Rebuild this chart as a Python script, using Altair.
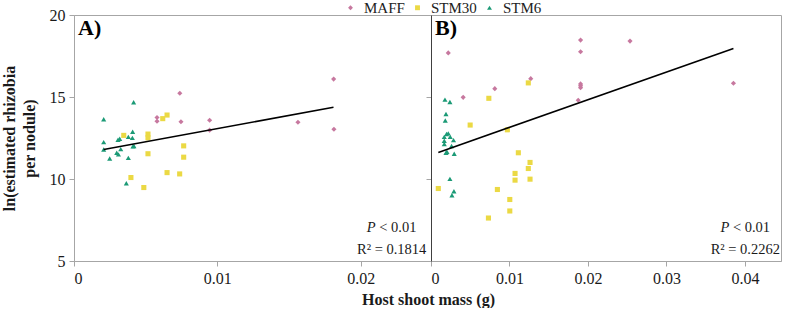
import altair as alt
import pandas as pd

FONT = "Liberation Serif"

strains = ["MAFF", "STM30", "STM6"]
strain_colors = ["#c7789f", "#ebd944", "#1b9a76"]
strain_shapes = ["diamond", "square", "triangle-up"]

# Panel A
a_maff_x = [0.00738, 0.00579, 0.00579, 0.00746, 0.00946, 0.00946, 0.01562, 0.01811, 0.01813]
a_maff_y = [15.23, 13.75, 13.52, 13.49, 13.58, 12.98, 13.46, 16.09, 13.03]
a_stm30_x = [0.00347, 0.00516, 0.00516, 0.00619, 0.00649, 0.00765, 0.00765, 0.00516, 0.00649, 0.00737, 0.00397, 0.00487]
a_stm30_y = [12.66, 12.74, 12.51, 13.68, 13.90, 12.02, 11.33, 11.54, 10.39, 10.31, 10.09, 9.48]
a_stm6_x = [0.00416, 0.00207, 0.00409, 0.00207, 0.00319, 0.00307, 0.00379, 0.00407, 0.00207,
            0.00326, 0.00411, 0.00418, 0.00298, 0.00310, 0.00249, 0.00379, 0.00365]
a_stm6_y = [14.68, 13.64, 12.88, 12.25, 12.45, 12.39, 12.57, 12.51, 11.80,
            11.82, 11.99, 12.01, 11.60, 11.50, 11.25, 11.29, 9.74]
a_fit_x = [0.00207, 0.0181]
a_fit_y = [11.80, 14.37]

# Panel B
b_maff_x = [0.00220, 0.00410, 0.00813, 0.01271, 0.01906, 0.01906, 0.01906, 0.01906, 0.01906, 0.01876, 0.02536, 0.03854]
b_maff_y = [17.69, 14.98, 15.51, 16.12, 18.47, 17.76, 15.80, 15.68, 15.57, 14.80, 18.41, 15.84]
b_stm30_x = [0.01240, 0.00737, 0.00499, 0.00973, 0.01113, 0.01262, 0.01240, 0.01071, 0.01071, 0.01262,
             0.00093, 0.00846, 0.01004, 0.01004, 0.00732]
b_stm30_y = [15.86, 14.92, 13.29, 13.00, 11.60, 11.01, 10.64, 10.34, 9.93, 9.99,
             9.42, 9.36, 8.75, 8.05, 7.62]
b_stm6_x = [0.00178, 0.00241, 0.00191, 0.00182, 0.00198, 0.00220, 0.00169, 0.00245, 0.00287,
            0.00169, 0.00169, 0.00262, 0.00203, 0.00191, 0.00296, 0.00241, 0.00292, 0.00267]
b_stm6_y = [14.84, 14.70, 13.96, 13.57, 12.74, 12.78, 12.57, 12.57, 12.37,
            12.33, 12.13, 12.01, 11.66, 11.60, 11.54, 10.01, 9.25, 9.01]
b_fit_x = [0.00093, 0.03854]
b_fit_y = [11.62, 17.96]

y_ticks = [5, 10, 15, 20]
a_x_ticks = [0, 0.01, 0.02]
b_x_ticks = [0, 0.01, 0.02, 0.03, 0.04]


def points_frame(groups):
    rows = []
    for name, xs, ys in groups:
        for xv, yv in zip(xs, ys):
            rows.append({"x": xv, "y": yv, "strain": name})
    return pd.DataFrame(rows)


a_df = points_frame([("MAFF", a_maff_x, a_maff_y), ("STM30", a_stm30_x, a_stm30_y), ("STM6", a_stm6_x, a_stm6_y)])
b_df = points_frame([("MAFF", b_maff_x, b_maff_y), ("STM30", b_stm30_x, b_stm30_y), ("STM6", b_stm6_x, b_stm6_y)])

legend = alt.Legend(
    title=None, orient="none", legendX=269, legendY=-15, direction="horizontal",
    labelFont=FONT, labelFontSize=15, labelColor="#222222", symbolSize=24,
    labelOffset=6, columnPadding=5, symbolStrokeWidth=0,
)

LABEL_EXPR = "datum.value == 0 ? '0' : format(datum.value, '.2f')"


def panel(df, fit_x, fit_y, xmax, xticks, letter, r2, width, center, first):
    xscale = alt.Scale(domain=[0, xmax], nice=False, zero=True)
    yscale = alt.Scale(domain=[5, 20], nice=False, zero=False)
    if first:
        xaxis = alt.Axis(values=xticks, labelExpr=LABEL_EXPR, title="Host shoot mass (g)",
                         titleX=354, titleY=38, titleBaseline="middle", titleAlign="center",
                         titleFont=FONT, titleFontSize=16, titleFontWeight="bold", titleColor="#1a1a1a")
        yaxis = alt.Axis(values=y_ticks, title=["ln(estimated rhizobia", "per nodule)"],
                         titleX=-65, titleY=123, titleAngle=270, titleAlign="center",
                         titleBaseline="middle", titleLineHeight=20,
                         titleFont=FONT, titleFontSize=16, titleFontWeight="bold", titleColor="#1a1a1a")
    else:
        xaxis = alt.Axis(values=xticks, labelExpr=LABEL_EXPR, title=None)
        yaxis = alt.Axis(values=y_ticks, labels=False, title=None, domainColor="#404040")

    pts = alt.Chart(df).mark_point(filled=True, opacity=1, size=26).encode(
        x=alt.X("x:Q", scale=xscale, axis=xaxis),
        y=alt.Y("y:Q", scale=yscale, axis=yaxis),
        color=alt.Color("strain:N", scale=alt.Scale(domain=strains, range=strain_colors), legend=legend),
        shape=alt.Shape("strain:N", scale=alt.Scale(domain=strains, range=strain_shapes), legend=legend),
    )
    fit = alt.Chart(pd.DataFrame({"x": fit_x, "y": fit_y})).mark_line(
        color="#000000", strokeWidth=1.6
    ).encode(x=alt.X("x:Q", scale=xscale), y=alt.Y("y:Q", scale=yscale))

    letter_txt = alt.Chart(pd.DataFrame({"t": [letter]})).mark_text(
        font=FONT, fontSize=22, fontWeight="bold", align="left", baseline="alphabetic", color="#000000"
    ).encode(x=alt.value(4), y=alt.value(19.5), text="t:N")

    split = center - 16
    p_txt = alt.Chart(pd.DataFrame({"t": ["P"]})).mark_text(
        font=FONT, fontSize=14.5, fontStyle="italic", align="right", baseline="middle", color="#1a1a1a"
    ).encode(x=alt.value(split), y=alt.value(213), text="t:N")
    lt_txt = alt.Chart(pd.DataFrame({"t": ["< 0.01"]})).mark_text(
        font=FONT, fontSize=14.5, align="left", baseline="middle", color="#1a1a1a"
    ).encode(x=alt.value(split + 3.6), y=alt.value(213), text="t:N")
    r2_txt = alt.Chart(pd.DataFrame({"t": [r2]})).mark_text(
        font=FONT, fontSize=14.5, align="center", baseline="middle", color="#1a1a1a"
    ).encode(x=alt.value(center), y=alt.value(235), text="t:N")

    return alt.layer(pts, fit, letter_txt, p_txt, lt_txt, r2_txt).properties(width=width, height=246)


chart_a = panel(a_df, a_fit_x, a_fit_y, 0.0249, a_x_ticks, "A)", "R\u00b2 = 0.1814", 357, 317.7, True)
chart_b = panel(b_df, b_fit_x, b_fit_y, 0.0446, b_x_ticks, "B)", "R\u00b2 = 0.2262", 350, 314.3, False)

chart = alt.hconcat(chart_a, chart_b, spacing=0, bounds="flush").resolve_scale(
    x="independent", y="independent"
).configure(
    padding=0, background="#ffffff"
).configure_view(
    stroke="#a6a6a6", strokeWidth=1
).configure_axis(
    grid=False, domainColor="#a6a6a6", tickColor="#a6a6a6", tickSize=5,
    labelFont=FONT, labelFontSize=16, labelColor="#1a1a1a", labelPadding=4,
)

chart.save("out.html", embed_options={"renderer": "svg", "actions": False})
